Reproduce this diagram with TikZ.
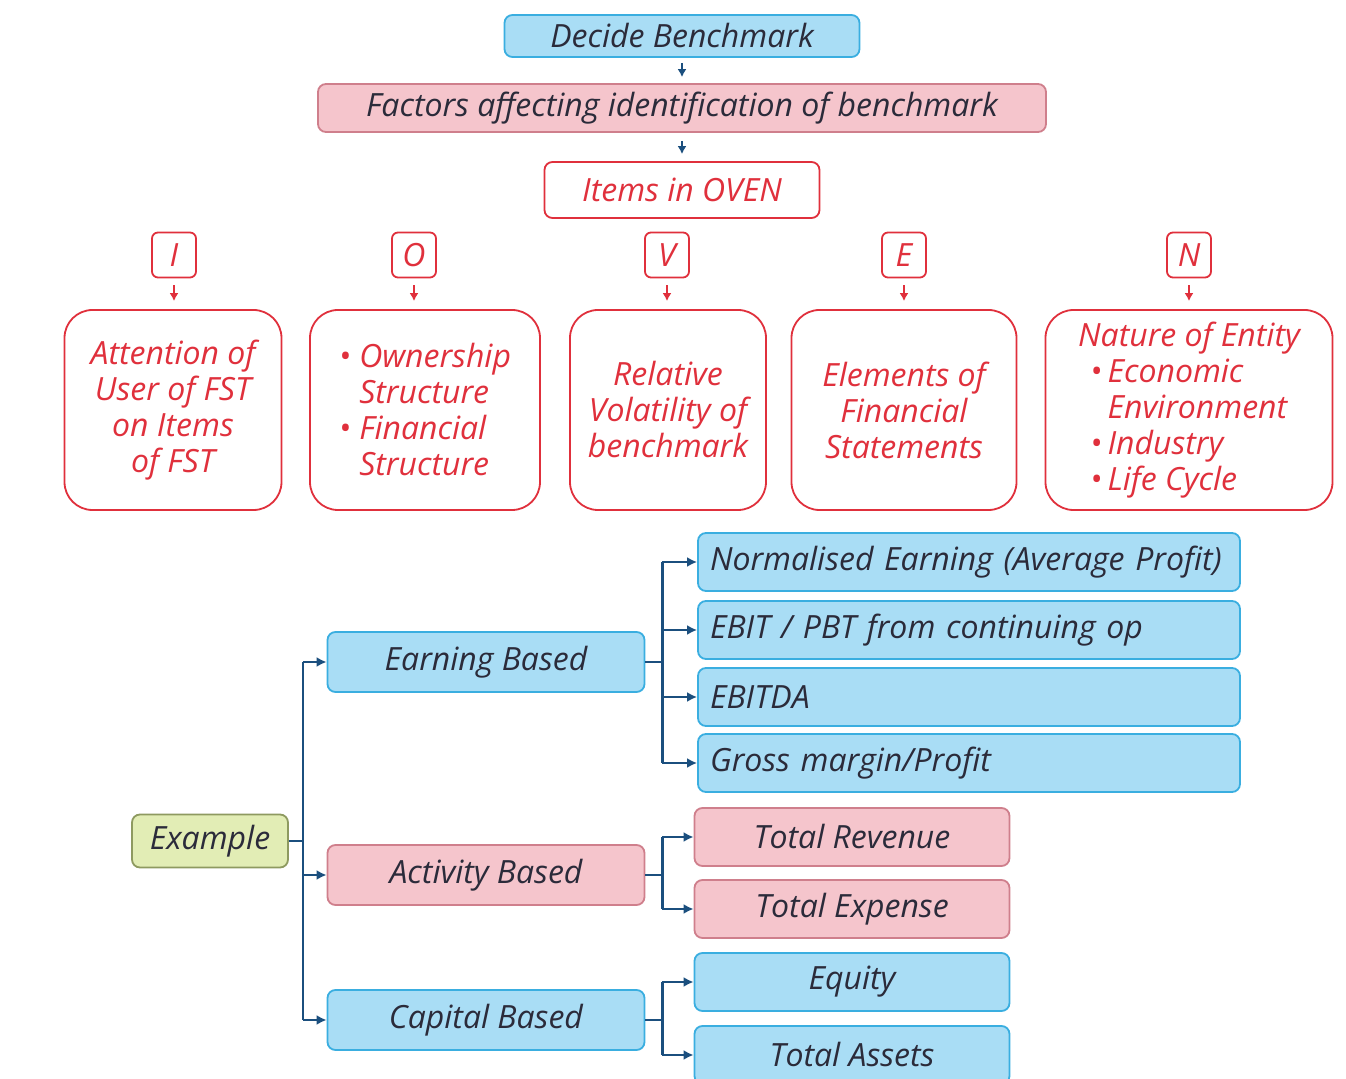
\documentclass[tikz,border=0pt]{standalone}
\usepackage{fontspec}
\setmainfont{Open Sans}
\usetikzlibrary{arrows.meta,positioning}

\definecolor{boxblue}{HTML}{A9DDF5}
\definecolor{lineblue}{HTML}{3AAEE0}
\definecolor{boxpink}{HTML}{F5C5CC}
\definecolor{linepink}{HTML}{CF7F8C}
\definecolor{ovenred}{HTML}{E0303C}
\definecolor{boxolive}{HTML}{E2EDB5}
\definecolor{lineolive}{HTML}{8E9A60}
\definecolor{connblue}{HTML}{1B4F7E}
\definecolor{inkdark}{HTML}{2B2B3A}

\begin{document}
\begin{tikzpicture}[x=0.5pt, y=-0.5pt,
        base/.style={rectangle, rounded corners=4pt, line width=0.9pt, inner sep=0pt,
            font=\fontsize{16}{18}\selectfont\itshape, text=inkdark},
        bluebox/.style={base, draw=lineblue, fill=boxblue},
        pinkbox/.style={base, draw=linepink, fill=boxpink},
        olivebox/.style={base, draw=lineolive, fill=boxolive},
        ovenbox/.style={base, draw=ovenred, fill=white, text=ovenred},
        letterbox/.style={ovenbox, rounded corners=3pt, minimum width=22pt, minimum height=22.5pt},
        itembox/.style={ovenbox, rounded corners=14pt, minimum height=100pt, align=center},
        kind/.style={minimum width=158.5pt, minimum height=30pt},
        wide/.style={minimum width=271pt, minimum height=29pt, text width=259pt, align=left},
        short/.style={minimum width=157.5pt, minimum height=29pt},
        tick/.style={line width=1.2pt, -{Latex[length=4pt,width=4.5pt]}},
        conn/.style={connblue, line width=1.4pt, -{Latex[length=5pt,width=5pt]}},
        bar/.style={connblue, line width=1.4pt}
    ]
    \clip (0,0) rectangle (1346,1079);

    % Benchmark chain
    \node[bluebox, minimum width=177.5pt, minimum height=21pt] (decide) at (682,36) {Decide Benchmark};
    \node[pinkbox, minimum width=364pt, minimum height=24pt] (factors) at (682,108) {Factors affecting identification of benchmark};
    \node[ovenbox, minimum width=137.5pt, minimum height=28pt] (oven) at (682,190) {Items in OVEN};

    % OVEN letters
    \node[letterbox] (i) at (174,255) {I};
    \node[letterbox] (o) at (414,255) {O};
    \node[letterbox] (v) at (667,255) {V};
    \node[letterbox] (e) at (904,255) {E};
    \node[letterbox] (n) at (1189,255) {N};

    % OVEN items
    \node[itembox, minimum width=108.5pt] (itemi) at (173,410) {Attention of\\User of FST\\on Items\\of FST};
    \node[itembox, minimum width=115pt, align=left] (itemo) at (425,410)
        {\textbullet\ Ownership\\\phantom{\textbullet\ }Structure\\\textbullet\ Financial\\\phantom{\textbullet\ }Structure};
    \node[itembox, minimum width=98pt] (itemv) at (668,410) {Relative\\Volatility of\\benchmark};
    \node[itembox, minimum width=112.5pt] (iteme) at (904,410) {Elements of\\Financial\\Statements};
    \node[itembox, minimum width=143.5pt, align=left] (itemn) at (1189,410)
        {Nature of Entity\\\hspace*{6pt}\textbullet\,Economic\\\hspace*{6pt}\phantom{\textbullet\,}Environment\\\hspace*{6pt}\textbullet\,Industry\\\hspace*{6pt}\textbullet\,Life Cycle};

    % Examples
    \node[olivebox, minimum width=78pt, minimum height=26.5pt] (example) at (210,841) {Example};
    \node[bluebox, kind] (earning) at (486,662) {Earning Based};
    \node[pinkbox, kind] (activity) at (486,875) {Activity Based};
    \node[bluebox, kind] (capital) at (486,1020) {Capital Based};

    \node[bluebox, wide] (norm) at (969,562) {Normalised Earning (Average Profit)};
    \node[bluebox, wide] (ebit) at (969,630) {EBIT / PBT from continuing op};
    \node[bluebox, wide] (ebitda) at (969,697) {EBITDA};
    \node[bluebox, wide] (gross) at (969,763) {Gross margin/Profit};

    \node[pinkbox, short] (revenue) at (852,837) {Total Revenue};
    \node[pinkbox, short] (expense) at (852,909) {Total Expense};

    \node[bluebox, short] (equity) at (852,982) {Equity};
    \node[bluebox, short] (assets) at (852,1055) {Total Assets};

    % Chain arrows
    \draw[tick, connblue] ([yshift=-2.5pt]decide.south) -- ([yshift=3pt]factors.north);
    \draw[tick, connblue] ([yshift=-4pt]factors.south) -- ([yshift=3.5pt]oven.north);
    \draw[tick, ovenred] ([yshift=-3.5pt]i.south) -- ([yshift=4pt]i.south |- itemi.north);
    \draw[tick, ovenred] ([yshift=-3.5pt]o.south) -- ([yshift=4pt]o.south |- itemo.north);
    \draw[tick, ovenred] ([yshift=-3.5pt]v.south) -- ([yshift=4pt]v.south |- itemv.north);
    \draw[tick, ovenred] ([yshift=-3.5pt]e.south) -- ([yshift=4pt]e.south |- iteme.north);
    \draw[tick, ovenred] ([yshift=-3.5pt]n.south) -- ([yshift=4pt]n.south |- itemn.north);

    % Example tree
    \draw[bar] (example.east) -- ++(7pt,0) coordinate (trunk);
    \draw[bar] (trunk |- earning) -- (trunk |- capital);
    \draw[conn] (trunk |- earning) -- (earning.west);
    \draw[conn] (trunk |- activity) -- (activity.west);
    \draw[conn] (trunk |- capital) -- (capital.west);

    \draw[bar] (earning.east) -- ++(8.5pt,0) coordinate (earnbar);
    \draw[bar] (earnbar |- norm) -- (earnbar |- gross);
    \draw[conn] (earnbar |- norm) -- (norm.west);
    \draw[conn] (earnbar |- ebit) -- (ebit.west);
    \draw[conn] (earnbar |- ebitda) -- (ebitda.west);
    \draw[conn] (earnbar |- gross) -- (gross.west);

    \draw[bar] (activity.east) -- ++(8.5pt,0) coordinate (actbar);
    \draw[bar] (actbar |- revenue) -- (actbar |- expense);
    \draw[conn] (actbar |- revenue) -- (revenue.west);
    \draw[conn] (actbar |- expense) -- (expense.west);

    \draw[bar] (capital.east) -- ++(8.5pt,0) coordinate (capbar);
    \draw[bar] (capbar |- equity) -- (capbar |- assets);
    \draw[conn] (capbar |- equity) -- (equity.west);
    \draw[conn] (capbar |- assets) -- (assets.west);

\end{tikzpicture}
\end{document}
